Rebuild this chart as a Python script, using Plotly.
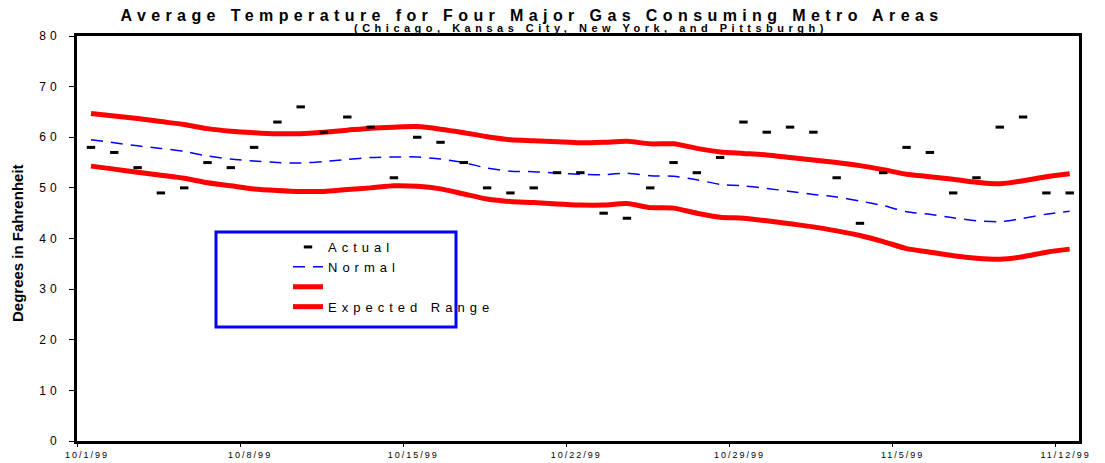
import pandas as pd
import plotly.graph_objects as go

# ---------------- data ----------------
start_date = "1999-10-01"
n_days = 43
actual = [58, 57, 54, 49, 50, 55, 54, 58, 63, 66, 61, 64, 62, 52, 60, 59, 55, 50, 49, 50,
          53, 53, 45, 44, 50, 55, 53, 56, 63, 61, 62, 61, 52, 43, 53, 58, 57, 49, 52, 62,
          64, 49, 49]
normal = [59.5, 58.9, 58.3, 57.8, 57.2, 56.3, 55.7, 55.3, 55.0, 54.9, 55.2, 55.6, 56.0, 56.1,
          56.1, 55.7, 55.0, 53.9, 53.3, 53.2, 52.9, 52.7, 52.6, 52.9, 52.4, 52.3, 51.6, 50.7,
          50.4, 49.9, 49.3, 48.7, 48.2, 47.4, 46.5, 45.3, 44.8, 44.1, 43.5, 43.3, 44.0, 44.8, 45.4]
upper = [64.7, 64.2, 63.7, 63.1, 62.5, 61.7, 61.2, 60.9, 60.7, 60.7, 61.0, 61.4, 61.8, 62.0,
         62.1, 61.6, 60.9, 60.1, 59.5, 59.3, 59.1, 58.9, 59.0, 59.2, 58.7, 58.7, 57.8, 57.1,
         56.8, 56.5, 56.0, 55.5, 55.0, 54.4, 53.6, 52.7, 52.2, 51.7, 51.1, 50.8, 51.4, 52.2, 52.8]
lower = [54.3, 53.7, 53.1, 52.5, 51.9, 51.0, 50.4, 49.8, 49.5, 49.3, 49.3, 49.7, 50.0, 50.4,
         50.3, 49.8, 48.8, 47.8, 47.3, 47.1, 46.8, 46.6, 46.6, 46.9, 46.1, 46.0, 45.0, 44.2,
         44.0, 43.5, 42.9, 42.3, 41.5, 40.6, 39.4, 38.0, 37.3, 36.6, 36.1, 35.9, 36.4, 37.3, 37.9]
tick_dates = ["1999-10-01", "1999-10-08", "1999-10-15", "1999-10-22", "1999-10-29",
              "1999-11-05", "1999-11-12"]
tick_labels = ["10/1/99", "10/8/99", "10/15/99", "10/22/99", "10/29/99", "11/5/99", "11/12/99"]
y_ticks = [0, 10, 20, 30, 40, 50, 60, 70, 80]

title_text = "Average Temperature for Four Major Gas Consuming Metro Areas"
subtitle_text = "(Chicago, Kansas City, New York, and Pittsburgh)"
y_title = "Degrees in Fahrenheit"

# ---------------- figure ----------------
FONT = "Liberation Sans, Arial, sans-serif"
L, R, T, B = 77, 26, 36, 22
W, H = 1105, 463
PW, PH = W - L - R, H - T - B


def sp(t, s):
    return f'<span style="letter-spacing:{s}px">{t}</span>'


def px_x(p):
    return (p - L) / PW


def px_y(p):
    return (H - B - p) / PH


dates = pd.date_range(start_date, periods=n_days, freq="D") + pd.Timedelta(hours=14.4)

fig = go.Figure()
line_shape = dict(shape="spline", smoothing=0.7)
fig.add_trace(go.Scatter(x=dates, y=upper, mode="lines", name=" ",
                         line=dict(color="#FF0000", width=5, **line_shape), legendrank=3))
fig.add_trace(go.Scatter(x=dates, y=lower, mode="lines", name=sp("Expected Range", 5),
                         line=dict(color="#FF0000", width=5, **line_shape), legendrank=4))
fig.add_trace(go.Scatter(x=dates, y=normal, mode="lines", name=sp("Normal", 5),
                         line=dict(color="#0000FF", width=1.5, dash="12px,8px", **line_shape),
                         legendrank=2))
fig.add_trace(go.Scatter(x=dates, y=actual, mode="markers", name=sp("Actual", 5),
                         marker=dict(symbol="line-ew", size=6, color="black",
                                     line=dict(color="black", width=3)),
                         legendrank=1))

fig.update_layout(
    width=W, height=H,
    margin=dict(l=L, r=R, t=T, b=B, autoexpand=False),
    paper_bgcolor="white", plot_bgcolor="white",
    font=dict(family=FONT, color="black"),
    title=dict(text="<b>" + sp(title_text, 5.4) + "</b>", font=dict(size=16, family=FONT),
               x=0.4815, xref="container", xanchor="center",
               y=1 - 15 / H, yref="container", yanchor="middle", automargin=False),
    showlegend=True,
    legend=dict(x=px_x(288), xanchor="left", y=px_y(232), yanchor="top",
                bgcolor="rgba(0,0,0,0)", borderwidth=0, font=dict(size=13, family=FONT),
                tracegroupgap=0),
)

fig.update_xaxes(
    type="date", range=["1999-10-01", "1999-11-13"],
    tickvals=tick_dates, ticktext=[sp(t, 2) for t in tick_labels],
    tickfont=dict(size=9, family=FONT), ticklabelshift=10,
    showline=True, linewidth=3, linecolor="black", mirror=True,
    ticks="outside", ticklen=3, tickwidth=1, tickcolor="black",
    showgrid=False, zeroline=False, automargin=False,
)
fig.update_yaxes(
    range=[0, 80], tickvals=y_ticks, ticktext=[sp(str(v), 4) for v in y_ticks],
    tickfont=dict(size=12, family=FONT), ticklabelstandoff=6,
    showline=True, linewidth=3, linecolor="black", mirror=True,
    ticks="outside", ticklen=5, tickwidth=1, tickcolor="black",
    showgrid=False, zeroline=False, automargin=False,
)

# y-axis title
fig.add_annotation(text="<b>" + y_title + "</b>", xref="paper", yref="paper",
                   x=px_x(18), y=px_y(243), xanchor="center", yanchor="middle",
                   textangle=-90, showarrow=False, font=dict(size=15, family=FONT))

# legend frame
fig.add_shape(type="rect", xref="paper", yref="paper",
              x0=px_x(216), x1=px_x(456), y0=px_y(327), y1=px_y(232),
              line=dict(color="#0000FF", width=3), fillcolor="rgba(0,0,0,0)")

fig.add_annotation(text="<b>" + sp(subtitle_text, 4.5) + "</b>", xref="paper", yref="paper",
                   x=px_x(591), y=px_y(28), xanchor="center", yanchor="middle",
                   showarrow=False, font=dict(size=11, family=FONT))

fig.write_html("out.html", config={"displayModeBar": False},
               post_script="document.body.style.margin='0';")
